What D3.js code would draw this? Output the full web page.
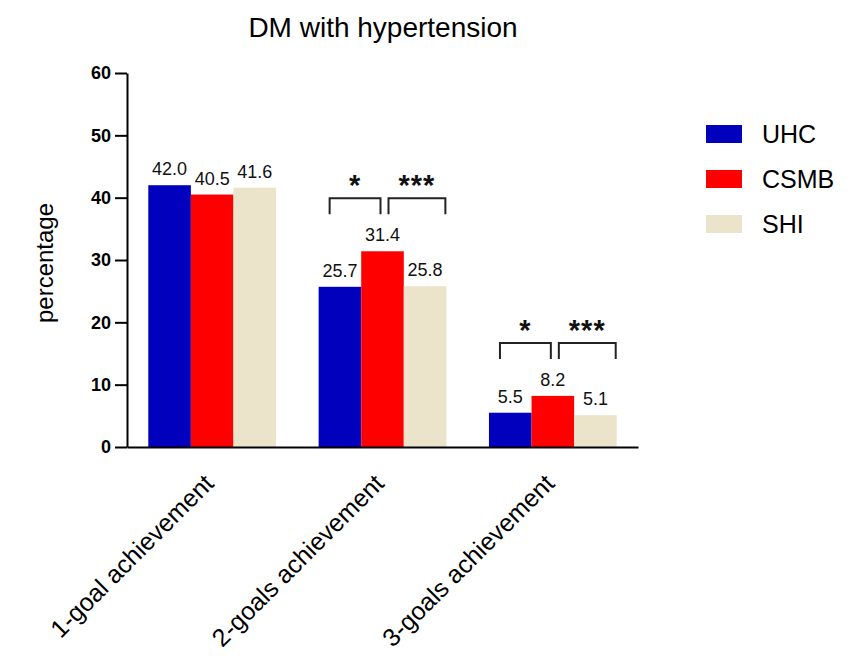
<!DOCTYPE html>
<html>
<head>
<meta charset="utf-8">
<script src="https://cdn.jsdelivr.net/npm/d3@7"></script>
<style>
  body { margin: 0; background: #fff; }
  text { font-family: "Liberation Sans", Arial, sans-serif; }
</style>
</head>
<body>
<script>
const categories = ["1-goal achievement", "2-goals achievement", "3-goals achievement"];
const series = ["UHC", "CSMB", "SHI"];
const uhc = [42.0, 25.7, 5.5];
const csmb = [40.5, 31.4, 8.2];
const shi = [41.6, 25.8, 5.1];
const yTicks = [0, 10, 20, 30, 40, 50, 60];
// significance marks: category index, first bar, second bar, stars
const sigCat = [1, 1, 2, 2];
const sigFrom = [0, 1, 0, 1];
const sigTo = [1, 2, 1, 2];
const sigLabel = ["*", "***", "*", "***"];

const colors = { UHC: "#0000bd", CSMB: "#ff0000", SHI: "#ebe4cb" };
const values = { UHC: uhc, CSMB: csmb, SHI: shi };

const svg = d3.select("body").append("svg").attr("width", 850).attr("height", 665);

const x0 = d3.scaleBand().domain(categories).range([127, 638]).paddingInner(0.25).paddingOuter(0.125);
const x1 = d3.scaleBand().domain(series).range([0, x0.bandwidth()]);
const y = d3.scaleLinear().domain([0, 60]).range([447, 73]);
const bw = x1.bandwidth();

// bars
const groups = svg.selectAll("g.grp")
    .data(categories)
    .enter()
    .append("g")
    .attr("class", "grp")
    .attr("transform", d => `translate(${x0(d)},0)`);

groups.selectAll("rect")
    .data((d, i) => series.map(s => ({ s: s, v: values[s][i] })))
    .enter()
    .append("rect")
    .attr("x", d => x1(d.s))
    .attr("y", d => y(d.v))
    .attr("width", bw)
    .attr("height", d => y(0) - y(d.v))
    .attr("fill", d => colors[d.s]);

groups.selectAll("text.val")
    .data((d, i) => series.map(s => ({ s: s, v: values[s][i] })))
    .enter()
    .append("text")
    .attr("class", "val")
    .attr("x", d => x1(d.s) + bw / 2)
    .attr("y", d => y(d.v) - 10)
    .attr("text-anchor", "middle")
    .attr("font-size", 18)
    .attr("fill", "#111")
    .text(d => d.v.toFixed(1));

// y axis
const yAxis = svg.append("g")
    .attr("transform", "translate(127,0)")
    .call(d3.axisLeft(y).tickValues(yTicks).tickSize(12).tickPadding(4).tickSizeOuter(0));
yAxis.select(".domain").attr("stroke", "#000").attr("stroke-width", 2);
yAxis.selectAll(".tick line").attr("stroke", "#000").attr("stroke-width", 2);
yAxis.selectAll(".tick text")
    .attr("font-size", 18)
    .attr("font-weight", "bold")
    .attr("font-family", "Liberation Sans, Arial, sans-serif")
    .attr("fill", "#000");

// x axis
const xAxis = svg.append("g")
    .attr("transform", "translate(0,447)")
    .call(d3.axisBottom(x0).tickSize(0).tickSizeOuter(0));
xAxis.select(".domain").attr("stroke", "#000").attr("stroke-width", 2);
xAxis.selectAll(".tick text")
    .attr("font-size", 25)
    .attr("font-family", "Liberation Sans, Arial, sans-serif")
    .attr("fill", "#000")
    .attr("text-anchor", "end")
    .attr("x", 0)
    .attr("y", 0)
    .attr("dy", 0)
    .attr("transform", "translate(3,38) rotate(-45)");

// significance brackets
sigCat.forEach((c, i) => {
    const gx = x0(categories[c]);
    const f = series[sigFrom[i]];
    const t = series[sigTo[i]];
    const xa = gx + x1(f) + (sigFrom[i] === 0 ? 11 : bw / 2 + 6);
    const xb = gx + x1(t) + (sigTo[i] === series.length - 1 ? bw - 1 : bw / 2 - 2);
    const top = d3.max(series, s => values[s][c]);
    const legY = y(top) - 37;
    const barY = legY - 16;
    svg.append("path")
        .attr("d", `M${xa},${legY}V${barY}H${xb}V${legY}`)
        .attr("fill", "none")
        .attr("stroke", "#222")
        .attr("stroke-width", 2);
    svg.append("text")
        .attr("x", (xa + xb) / 2)
        .attr("y", barY - 3)
        .attr("text-anchor", "middle")
        .attr("font-size", 29)
        .attr("font-weight", "bold")
        .attr("letter-spacing", 1)
        .attr("fill", "#111")
        .text(sigLabel[i]);
});

// title and y label
svg.append("text")
    .attr("x", 383)
    .attr("y", 37)
    .attr("text-anchor", "middle")
    .attr("font-size", 28)
    .attr("fill", "#000")
    .text("DM with hypertension");

svg.append("text")
    .attr("transform", "translate(53,263) rotate(-90)")
    .attr("text-anchor", "middle")
    .attr("font-size", 24)
    .attr("fill", "#000")
    .text("percentage");

// legend
const legend = svg.append("g").attr("transform", "translate(706,125)");
legend.selectAll("rect")
    .data(series)
    .enter()
    .append("rect")
    .attr("x", 0)
    .attr("y", (d, i) => i * 45)
    .attr("width", 36)
    .attr("height", 18)
    .attr("fill", d => colors[d]);
legend.selectAll("text")
    .data(series)
    .enter()
    .append("text")
    .attr("x", 56)
    .attr("y", (d, i) => i * 45 + 18)
    .attr("font-size", 25)
    .attr("fill", "#000")
    .text(d => d);
</script>
</body>
</html>
